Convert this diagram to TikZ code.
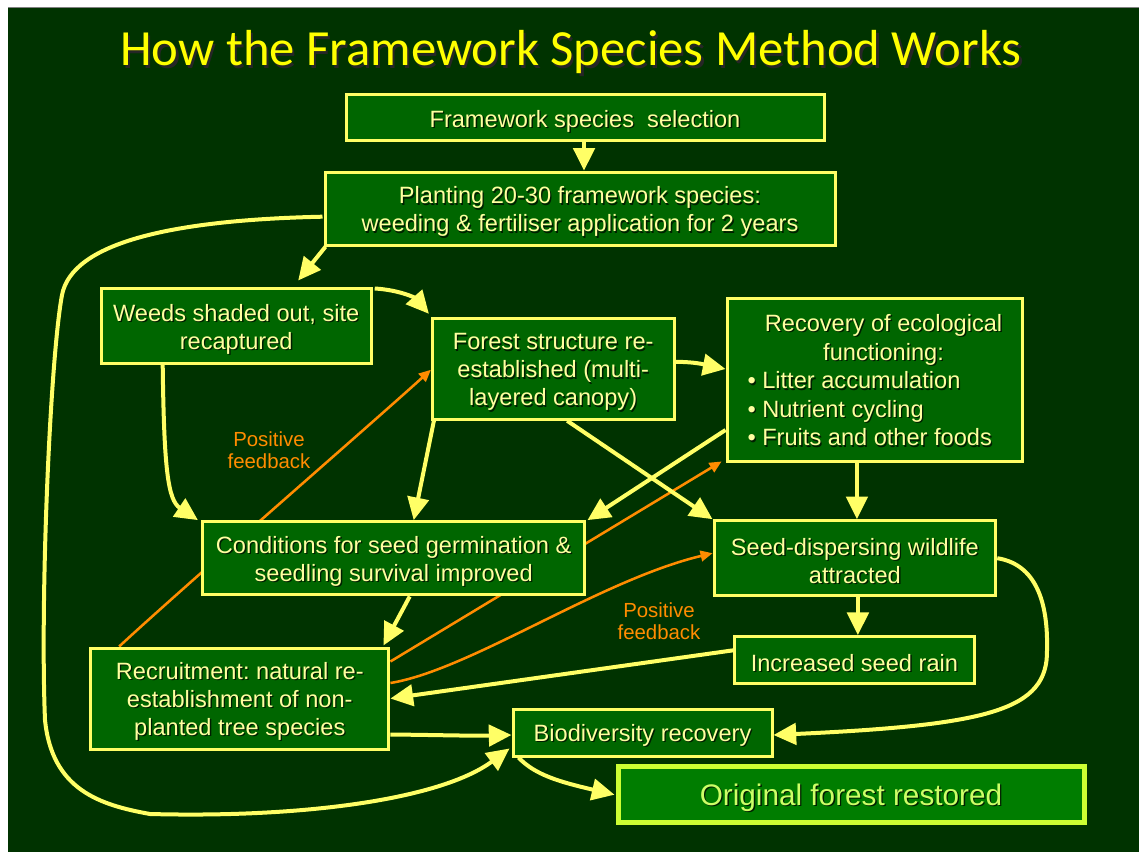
\documentclass[tikz,border=0pt]{standalone}
\usepackage{fontspec}
\setmainfont{Liberation Sans}
\newfontfamily\titlefont{Carlito}
\usetikzlibrary{arrows.meta,calc}

\definecolor{pagebg}{RGB}{0,51,0}
\definecolor{boxfill}{RGB}{0,102,0}
\definecolor{boxedge}{RGB}{255,255,102}
\definecolor{boxtext}{RGB}{255,255,160}
\definecolor{linkyellow}{RGB}{255,255,102}
\definecolor{fborange}{RGB}{255,140,0}
\definecolor{titleyellow}{RGB}{255,255,0}
\definecolor{finalfill}{RGB}{0,125,0}
\definecolor{finaledge}{RGB}{204,255,51}
\definecolor{finaltext}{RGB}{204,255,102}
\definecolor{txtshadow}{RGB}{0,30,0}

\pgfdeclarelayer{backdrop}
\pgfdeclarelayer{feedback}
\pgfsetlayers{backdrop,feedback,main}

% text with a small dark drop shadow
\newcommand\sh[1]{\leavevmode\rlap{\kern1pt\raisebox{-1pt}{\textcolor{txtshadow}{#1}}}#1}
\newcommand\titlesh[1]{\leavevmode\rlap{\kern1.6pt\raisebox{-1.6pt}{\textcolor{black!85}{#1}}}#1}
\newcommand\bxfont{\frenchspacing\fontsize{17.7}{21}\selectfont}
% extra room above the first line, so the text sits a little low in its box
\newcommand\topgap{\rule{0pt}{18.2pt}}

\begin{document}
\frenchspacing
\begin{tikzpicture}[x=0.75pt,y=-0.75pt,
  box/.style={draw=boxedge, fill=boxfill, line width=2.25pt, text=boxtext,
    font=\bxfont, align=center, inner sep=0pt},
  finalbox/.style={draw=finaledge, fill=finalfill, line width=3.75pt, text=finaltext,
    font=\fontsize{22.3}{26}\selectfont, align=center, inner sep=0pt},
  link/.style={draw=linkyellow, line width=3pt, -{Triangle[length=17pt,width=16pt]}},
  fbarrow/.style={draw=fborange, line width=1.9pt, -{Triangle[length=9pt,width=8pt]}},
  fblabel/.style={text=fborange, font=\fontsize{15.3}{16.5}\selectfont, align=center, inner sep=0pt}
]
\useasboundingbox (0,0) rectangle (1139,852);

\begin{pgfonlayer}{backdrop}
  \fill[white] (0,0) rectangle (1139,852);
  \fill[pagebg] (8,8) rectangle (1139,852);
  \draw[gray, line width=0.75pt] (8,8) -- (1139,8);
\end{pgfonlayer}

% title
\node[font=\titlefont\fontsize{38}{42}\selectfont, text=titleyellow, anchor=base, inner sep=0pt]
  (title) at (571,66) {\titlesh{How the Framework Species Method Works}};

% process boxes
\node[box, minimum width=358.5pt, minimum height=34.5pt] (select) at (585,118)
  {\topgap\sh{Framework species\ \ selection}};
\node[box, minimum width=382.5pt, minimum height=54.75pt] (plant) at (580,208.7)
  {\topgap\sh{Planting 20-30 framework species:}\\\sh{weeding \& fertiliser application for 2 years}};
\node[box, minimum width=202.5pt, minimum height=55.5pt] (weeds) at (236.2,326)
  {\topgap\sh{Weeds shaded out, site}\\\sh{recaptured}};
\node[box, minimum width=181.2pt, minimum height=75.75pt] (forest) at (553.2,368.8)
  {\topgap\sh{Forest structure re-}\\\sh{established (multi-}\\\sh{layered canopy)}};
\node[box, minimum width=221.8pt, minimum height=121.5pt] (eco) at (874.9,380)
  {\def\arraystretch{1.02}\begin{tabular}{@{}l@{}}
   \multicolumn{1}{@{\hspace{13pt}}c@{}}{\rule{0pt}{19.5pt}\sh{Recovery of ecological}}\\
   \multicolumn{1}{@{\hspace{13pt}}c@{}}{\sh{functioning:}}\\
   \sh{• Litter accumulation}\\
   \sh{• Nutrient cycling}\\
   \sh{• Fruits and other foods}
   \end{tabular}};
\node[box, minimum width=286.9pt, minimum height=55pt] (cond) at (393.7,558.3)
  {\topgap\sh{Conditions for seed germination \&}\\\sh{seedling survival improved}};
\node[box, minimum width=211.3pt, minimum height=56.25pt] (wild) at (854.9,558.2)
  {\topgap\sh{Seed-dispersing wildlife}\\\sh{attracted}};
\node[box, minimum width=179.4pt, minimum height=35.5pt] (rain) at (854.4,660.3)
  {\topgap\sh{Increased seed rain}};
\node[box, minimum width=223.7pt, minimum height=75.75pt] (recr) at (239.8,698.5)
  {\topgap\sh{Recruitment: natural re-}\\\sh{establishment of non-}\\\sh{planted tree species}};
\node[box, minimum width=194.25pt, minimum height=35.25pt] (bio) at (642.5,732.5)
  {\topgap\sh{Biodiversity recovery}};
\node[finalbox, minimum width=349.5pt, minimum height=42pt] (orig) at (851,794.7)
  {\rule{0pt}{21.5pt}\sh{Original forest restored}};

% feedback labels
\node[fblabel] (fbA) at (269,450) {Positive\\feedback};
\node[fblabel] (fbB) at (659,621) {Positive\\feedback};

% positive feedback loops, running behind the boxes
\begin{pgfonlayer}{feedback}
  \draw[fbarrow] ($(recr.north west)+(30,0)$) .. controls (180,590) and (370,425) .. ($(forest.west)+(0,1)$);
  \draw[fbarrow] ($(recr.east)+(0,-37)$) -- ($(eco.south west)+(-4,-1)$);
  \draw[fbarrow] ($(recr.east)+(0,-15.5)$) .. controls (470,670) and (600,580) .. ($(wild.west)+(0,-5)$);
\end{pgfonlayer}

% main flow
\draw[link] ($(select.south)+(-1,0)$) -- ($(plant.north)+(4,0)$);
\draw[link] ($(plant.south west)+(2,0)$) -- ($(weeds.north)+(62,-7)$);
\draw[link] ($(plant.west)+(-1,8)$) .. controls (170,220) and (72,243) .. (62,295)
  .. controls (50,360) and (40,600) .. (45,720)
  .. controls (52,790) and (100,805) .. (150,814)
  .. controls (300,818) and (440,800) .. ($(bio.south west)+(-2,-9)$);
\draw[link] ($(weeds.north east)+(2,1)$) .. controls (400,290) and (415,298) .. ($(forest.north west)+(-2,-3)$);
\draw[link] ($(weeds.south west)+(63,0)$) .. controls (164,470) and (168,500) .. ($(cond.north west)+(-3,0)$);
\draw[link] ($(forest.south west)+(3,0)$) -- ($(cond.north)+(20,0)$);
\draw[link] ($(forest.east)+(0,-7)$) .. controls (700,362) and (710,366) .. ($(eco.west)+(0,-11)$);
\draw[link] ($(forest.south)+(14,0)$) -- (wild.north west);
\draw[link] ($(eco.west)+(0,50)$) -- ($(cond.north east)+(1,0)$);
\draw[link] ($(eco.south)+(-18,0)$) -- ($(wild.north)+(2,0)$);
\draw[link] ($(wild.south)+(3,0)$) -- ($(rain.north)+(3.5,0)$);
\draw[link] ($(cond.south)+(16,0)$) -- ($(recr.north east)+(-7,-1)$);
\draw[link] ($(rain.west)+(0,-10)$) -- (recr.east);
\draw[link] ($(recr.east)+(0,36)$) .. controls (440,735) and (470,736) .. ($(bio.west)+(0,2.5)$);
\draw[link] (wild.east) .. controls (1040,565) and (1048,610) .. (1047,650)
  .. controls (1048,710) and (990,725) .. ($(bio.east)+(0,2.5)$);
\draw[link] ($(bio.south west)+(7,0)$) .. controls (535,775) and (560,782) .. ($(orig.west)+(-1,0)$);
\end{tikzpicture}
\end{document}
